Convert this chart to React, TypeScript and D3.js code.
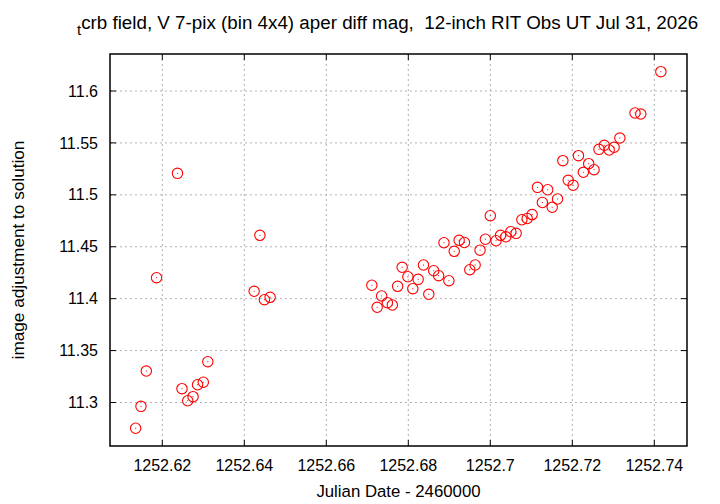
import React from "react";
import * as d3 from "d3";

// Julian date minus 2460000, one entry per image
const julianDates = [
  1252.6135, 1252.6148, 1252.6161, 1252.6186, 1252.6237, 1252.6248, 1252.6262,
  1252.6275, 1252.6286, 1252.63, 1252.6311, 1252.6424, 1252.6438, 1252.6449,
  1252.6463, 1252.6711, 1252.6724, 1252.6735, 1252.6749, 1252.6761, 1252.6774,
  1252.6785, 1252.6799, 1252.6811, 1252.6824, 1252.6837, 1252.685, 1252.6862,
  1252.6874, 1252.6887, 1252.6899, 1252.6912, 1252.6924, 1252.6937, 1252.695,
  1252.6963, 1252.6975, 1252.6988, 1252.7, 1252.7014, 1252.7025, 1252.7038,
  1252.705, 1252.7063, 1252.7077, 1252.709, 1252.7102, 1252.7115, 1252.7127,
  1252.714, 1252.7151, 1252.7164, 1252.7177, 1252.719, 1252.7202, 1252.7215,
  1252.7227, 1252.724, 1252.7253, 1252.7265, 1252.7278, 1252.729, 1252.7302,
  1252.7316, 1252.7353, 1252.7367, 1252.7416,
];

// image adjustment to solution (mag)
const adjustments = [
  11.2752, 11.2963, 11.3303, 11.4202, 11.5207, 11.3133, 11.3017, 11.3056,
  11.3171, 11.3195, 11.3393, 11.4071, 11.461, 11.399, 11.4013, 11.4129,
  11.3917, 11.4026, 11.3961, 11.3939, 11.4119, 11.4302, 11.4211, 11.4096,
  11.4186, 11.4324, 11.4042, 11.4269, 11.4221, 11.4539, 11.4173, 11.4456,
  11.4562, 11.4541, 11.4279, 11.4324, 11.4467, 11.4572, 11.4799, 11.4558,
  11.461, 11.4596, 11.4645, 11.4629, 11.476, 11.4772, 11.481, 11.5072,
  11.4926, 11.5049, 11.488, 11.496, 11.5329, 11.514, 11.5092, 11.5377,
  11.5217, 11.53, 11.5242, 11.5438, 11.5477, 11.5432, 11.5458, 11.5547,
  11.5788, 11.5778, 11.6186,
];

const xTicks = [1252.62, 1252.64, 1252.66, 1252.68, 1252.7, 1252.72, 1252.74];
const yTicks = [11.3, 11.35, 11.4, 11.45, 11.5, 11.55, 11.6];

const W = 720;
const H = 504;
const left = 110;
const right = 687;
const top = 54;
const bottom = 446;
const font = "'Liberation Sans', Arial, sans-serif";

export default function App() {
  const x = d3.scaleLinear().domain([1252.62, 1252.74]).range([162.3, 654.3]);
  const y = d3.scaleLinear().domain([11.3, 11.6]).range([402.5, 91]);
  const tickLen = 6;

  return (
    <svg
      width={W}
      height={H}
      style={{ position: "absolute", left: 0, top: 0, background: "#fff" }}
      fontFamily={font}
      fontSize={16}
    >
      {/* grid */}
      {xTicks.map((t) => (
        <line
          key={"gx" + t}
          x1={x(t)}
          x2={x(t)}
          y1={top}
          y2={bottom}
          stroke="#b0b0b0"
          strokeWidth={1}
          strokeDasharray="2,3"
        />
      ))}
      {yTicks.map((t) => (
        <line
          key={"gy" + t}
          x1={left}
          x2={right}
          y1={y(t)}
          y2={y(t)}
          stroke="#b0b0b0"
          strokeWidth={1}
          strokeDasharray="2,3"
        />
      ))}

      {/* ticks, mirrored on all sides */}
      {xTicks.map((t) => (
        <g key={"tx" + t} stroke="#000" strokeWidth={1}>
          <line x1={x(t)} x2={x(t)} y1={bottom} y2={bottom - tickLen} />
          <line x1={x(t)} x2={x(t)} y1={top} y2={top + tickLen} />
        </g>
      ))}
      {yTicks.map((t) => (
        <g key={"ty" + t} stroke="#000" strokeWidth={1}>
          <line x1={left} x2={left + tickLen} y1={y(t)} y2={y(t)} />
          <line x1={right} x2={right - tickLen} y1={y(t)} y2={y(t)} />
        </g>
      ))}

      {/* tick labels */}
      {xTicks.map((t) => (
        <text key={"lx" + t} x={x(t)} y={471} textAnchor="middle" fill="#000">
          {d3.format(".2f")(t).replace(/0$/, "")}
        </text>
      ))}
      {yTicks.map((t) => (
        <text
          key={"ly" + t}
          x={98}
          y={y(t)}
          dy="0.35em"
          textAnchor="end"
          fill="#000"
        >
          {String(+t.toFixed(2))}
        </text>
      ))}

      {/* data points */}
      {julianDates.map((jd, i) => (
        <g key={"p" + i}>
          <circle
            cx={x(jd)}
            cy={y(adjustments[i])}
            r={5.2}
            fill="none"
            stroke="#ff0000"
            strokeWidth={1.1}
          />
          <rect
            x={x(jd) - 0.5}
            y={y(adjustments[i]) - 0.5}
            width={1}
            height={1}
            fill="#ff0000"
          />
        </g>
      ))}

      {/* frame */}
      <rect
        x={left}
        y={top}
        width={right - left}
        height={bottom - top}
        fill="none"
        stroke="#000"
        strokeWidth={1.5}
      />

      {/* title */}
      <text x={77} y={29} fill="#000" fontSize={18.8} style={{ whiteSpace: "pre" }}>
        <tspan fontSize={15} dy={6}>t</tspan>
        <tspan dy={-6}>{"crb field, V 7-pix (bin 4x4) aper diff mag,  12-inch RIT Obs UT Jul 31, 2026"}</tspan>
      </text>

      {/* axis labels */}
      <text x={(left + right) / 2} y={497} textAnchor="middle" fill="#000" fontSize={16.8}>
        Julian Date - 2460000
      </text>
      <text
        transform={`translate(24,${(top + bottom) / 2}) rotate(-90)`}
        textAnchor="middle"
        fill="#000"
        fontSize={17.2}
      >
        image adjustment to solution
      </text>
    </svg>
  );
}
